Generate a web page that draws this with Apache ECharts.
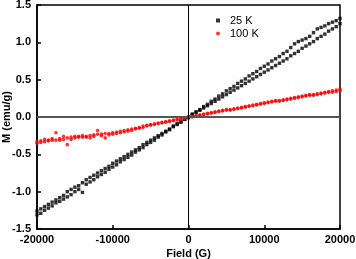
<!DOCTYPE html>
<html><head><meta charset="utf-8">
<script src="https://cdn.jsdelivr.net/npm/echarts@6/dist/echarts.min.js"></script>
<style>html,body{margin:0;padding:0;background:#fff}#c{width:356px;height:259px}</style>
</head><body><div id="c"></div>
<script>
var fields = [-20000,-19500,-19000,-18500,-18000,-17500,-17000,-16500,-16000,-15500,-15000,-14500,-14000,-13500,-13000,-12500,-12000,-11500,-11000,-10500,-10000,-9500,-9000,-8500,-8000,-7500,-7000,-6500,-6000,-5500,-5000,-4500,-4000,-3500,-3000,-2500,-2000,-1500,-1000,-500,0,500,1000,1500,2000,2500,3000,3500,4000,4500,5000,5500,6000,6500,7000,7500,8000,8500,9000,9500,10000,10500,11000,11500,12000,12500,13000,13500,14000,14500,15000,15500,16000,16500,17000,17500,18000,18500,19000,19500,20000];
var m25a = [-1.31,-1.29,-1.25,-1.22,-1.19,-1.15,-1.13,-1.10,-1.07,-1.04,-1.00,-0.97,-1.01,-0.90,-0.87,-0.84,-0.80,-0.77,-0.74,-0.70,-0.67,-0.64,-0.60,-0.57,-0.54,-0.51,-0.47,-0.44,-0.41,-0.37,-0.34,-0.31,-0.27,-0.24,-0.20,-0.17,-0.13,-0.10,-0.07,-0.03,0.00,0.04,0.07,0.10,0.14,0.17,0.21,0.24,0.28,0.31,0.35,0.38,0.41,0.45,0.48,0.51,0.55,0.58,0.61,0.65,0.68,0.71,0.75,0.78,0.81,0.85,0.88,0.93,0.98,1.01,1.03,1.05,1.08,1.13,1.18,1.20,1.22,1.25,1.27,1.29,1.32];
var m25b = [-1.26,-1.23,-1.20,-1.17,-1.14,-1.11,-1.08,-1.05,-1.00,-0.97,-0.94,-0.92,-0.88,-0.84,-0.81,-0.78,-0.75,-0.72,-0.69,-0.66,-0.62,-0.59,-0.56,-0.53,-0.50,-0.47,-0.44,-0.41,-0.37,-0.34,-0.31,-0.28,-0.25,-0.22,-0.19,-0.16,-0.12,-0.09,-0.06,-0.03,-0.01,0.03,0.06,0.09,0.12,0.15,0.18,0.21,0.24,0.27,0.30,0.33,0.36,0.39,0.42,0.45,0.48,0.51,0.54,0.57,0.60,0.63,0.66,0.69,0.72,0.75,0.78,0.82,0.85,0.88,0.92,0.95,0.98,1.01,1.05,1.08,1.11,1.15,1.18,1.21,1.25];
var m100a = [-0.33,-0.32,-0.30,-0.31,-0.29,-0.21,-0.29,-0.26,-0.28,-0.27,-0.26,-0.26,-0.25,-0.26,-0.25,-0.24,-0.18,-0.23,-0.22,-0.22,-0.21,-0.20,-0.19,-0.18,-0.17,-0.16,-0.15,-0.14,-0.12,-0.11,-0.10,-0.09,-0.08,-0.07,-0.06,-0.05,-0.04,-0.03,-0.02,-0.01,0.00,0.01,0.02,0.03,0.04,0.05,0.06,0.07,0.08,0.09,0.10,0.10,0.11,0.12,0.13,0.14,0.15,0.16,0.17,0.18,0.19,0.20,0.21,0.22,0.22,0.23,0.24,0.25,0.26,0.27,0.28,0.29,0.30,0.30,0.31,0.32,0.33,0.34,0.35,0.36,0.37];
var m100b = [-0.35,-0.34,-0.33,-0.32,-0.31,-0.31,-0.31,-0.30,-0.37,-0.30,-0.28,-0.27,-0.27,-0.27,-0.28,-0.26,-0.23,-0.25,-0.28,-0.24,-0.23,-0.22,-0.21,-0.20,-0.19,-0.18,-0.16,-0.15,-0.14,-0.12,-0.11,-0.10,-0.09,-0.08,-0.07,-0.06,-0.05,-0.04,-0.03,-0.02,-0.01,0.00,0.01,0.02,0.03,0.04,0.05,0.06,0.07,0.08,0.09,0.09,0.10,0.11,0.12,0.13,0.14,0.15,0.16,0.17,0.18,0.19,0.20,0.21,0.21,0.22,0.23,0.24,0.25,0.26,0.27,0.28,0.29,0.29,0.30,0.31,0.32,0.33,0.33,0.34,0.35];
var seriesNames = ['25 K','100 K'];
var xTicks = [-20000,-10000,0,10000,20000];
var yTicks = [-1.5,-1.0,-0.5,0.0,0.5,1.0,1.5];

function pairs(xs, ys){ return xs.map(function(x,i){return [x, ys[i]];}); }
var d25 = pairs(fields, m25a).concat(pairs(fields, m25b));
var d100 = pairs(fields, m100a).concat(pairs(fields, m100b));

var font = 'Liberation Sans, Arial, sans-serif';
var chart = echarts.init(document.getElementById('c'), null, {renderer:'canvas'});
chart.setOption({
  animation:false,
  backgroundColor:'#fff',
  grid:{left:37,right:16,top:5,bottom:30,show:true,borderColor:'#000',borderWidth:1.5,backgroundColor:'transparent',outerBoundsMode:'none'},
  legend:{
    orient:'vertical', left:211, top:10, itemGap:2, itemWidth:4, itemHeight:4,
    textStyle:{fontFamily:font,fontSize:11,color:'#000',padding:[0,0,0,5]},
    data:[{name:seriesNames[0],icon:'rect'},{name:seriesNames[1],icon:'circle'}]
  },
  xAxis:{
    type:'value', min:xTicks[0], max:xTicks[xTicks.length-1], interval:10000,
    name:'Field (G)', nameLocation:'middle', nameGap:19, nameMoveOverlap:false,
    nameTextStyle:{fontFamily:font,fontSize:11,fontWeight:'bold',color:'#000'},
    axisLine:{onZero:false,lineStyle:{color:'#000',width:1.5}},
    axisTick:{inside:true,length:4,lineStyle:{color:'#000',width:1.5}},
    axisLabel:{fontFamily:font,fontSize:11,fontWeight:'bold',color:'#000',margin:5,
      formatter:function(v){return String(v);}},
    splitLine:{show:false}
  },
  yAxis:{
    type:'value', min:yTicks[0], max:yTicks[yTicks.length-1], interval:0.5,
    name:'M (emu/g)', nameLocation:'middle', nameGap:25, nameRotate:90, nameMoveOverlap:false,
    nameTextStyle:{fontFamily:font,fontSize:11,fontWeight:'bold',color:'#000'},
    axisLine:{onZero:false,lineStyle:{color:'#000',width:1.5}},
    axisTick:{inside:true,length:4,lineStyle:{color:'#000',width:1.5}},
    axisLabel:{fontFamily:font,fontSize:11,fontWeight:'bold',color:'#000',margin:6,
      formatter:function(v){return v.toFixed(1);}},
    splitLine:{show:false}
  },
  series:[
    {name:seriesNames[0], type:'scatter', symbol:'rect', symbolSize:3.4, itemStyle:{color:'#000'}, data:d25, z:3,
     markLine:{silent:true, symbol:'none', label:{show:false}, animation:false,
       data:[{yAxis:0, lineStyle:{color:'#555',width:2,type:'solid'}},{xAxis:0, lineStyle:{color:'#000',width:1,type:'solid'}}]}},
    {name:seriesNames[1], type:'scatter', symbol:'circle', symbolSize:3.6, itemStyle:{color:'#f00'}, data:d100, z:4}
  ]
});
</script></body></html>
